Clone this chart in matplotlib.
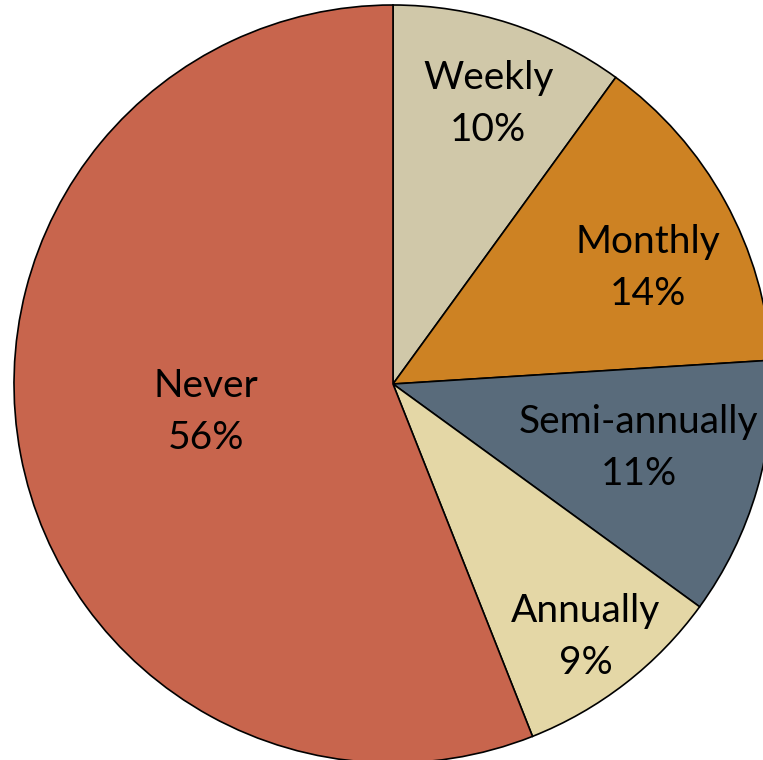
import numpy as np
import matplotlib
matplotlib.use("Agg")
import matplotlib.pyplot as plt

categories = ["Weekly", "Monthly", "Semi-annually", "Annually", "Never"]
shares = [10, 14, 11, 9, 56]
colors = ["#D0C8A9", "#CD8223", "#596B7B", "#E4D7A6", "#C8654D"]

# label placement inside each wedge: radial fraction and angular nudge (deg)
label_radius = [0.78, 0.74, 0.67, 0.84, 0.50]
label_nudge = [0.8, 4.3, -1.5, 0.5, 2.3]

W, H = 763, 760
fig = plt.figure(figsize=(W / 100, H / 100), dpi=100)
ax = fig.add_axes([0, 0, 1, 1])

cx, cy, r = 393, H - 384, 379
wedges, _ = ax.pie(
    shares, colors=colors, startangle=90, counterclock=False,
    center=(cx, cy), radius=r,
    wedgeprops=dict(edgecolor="black", linewidth=1.2),
)

for w, name, val, fr, nudge in zip(wedges, categories, shares, label_radius, label_nudge):
    mid = np.deg2rad((w.theta1 + w.theta2) / 2 - nudge)
    x = cx + fr * r * np.cos(mid)
    y = cy + fr * r * np.sin(mid)
    ax.text(x, y, f"{name}\n{val}%", ha="center", va="center",
            fontsize=28, family=["Lato", "DejaVu Sans"], linespacing=1.55,
            color="black")

ax.set_xlim(0, W)
ax.set_ylim(0, H)
ax.set_aspect("auto")
ax.axis("off")

fig.savefig("out.png", dpi=100)
